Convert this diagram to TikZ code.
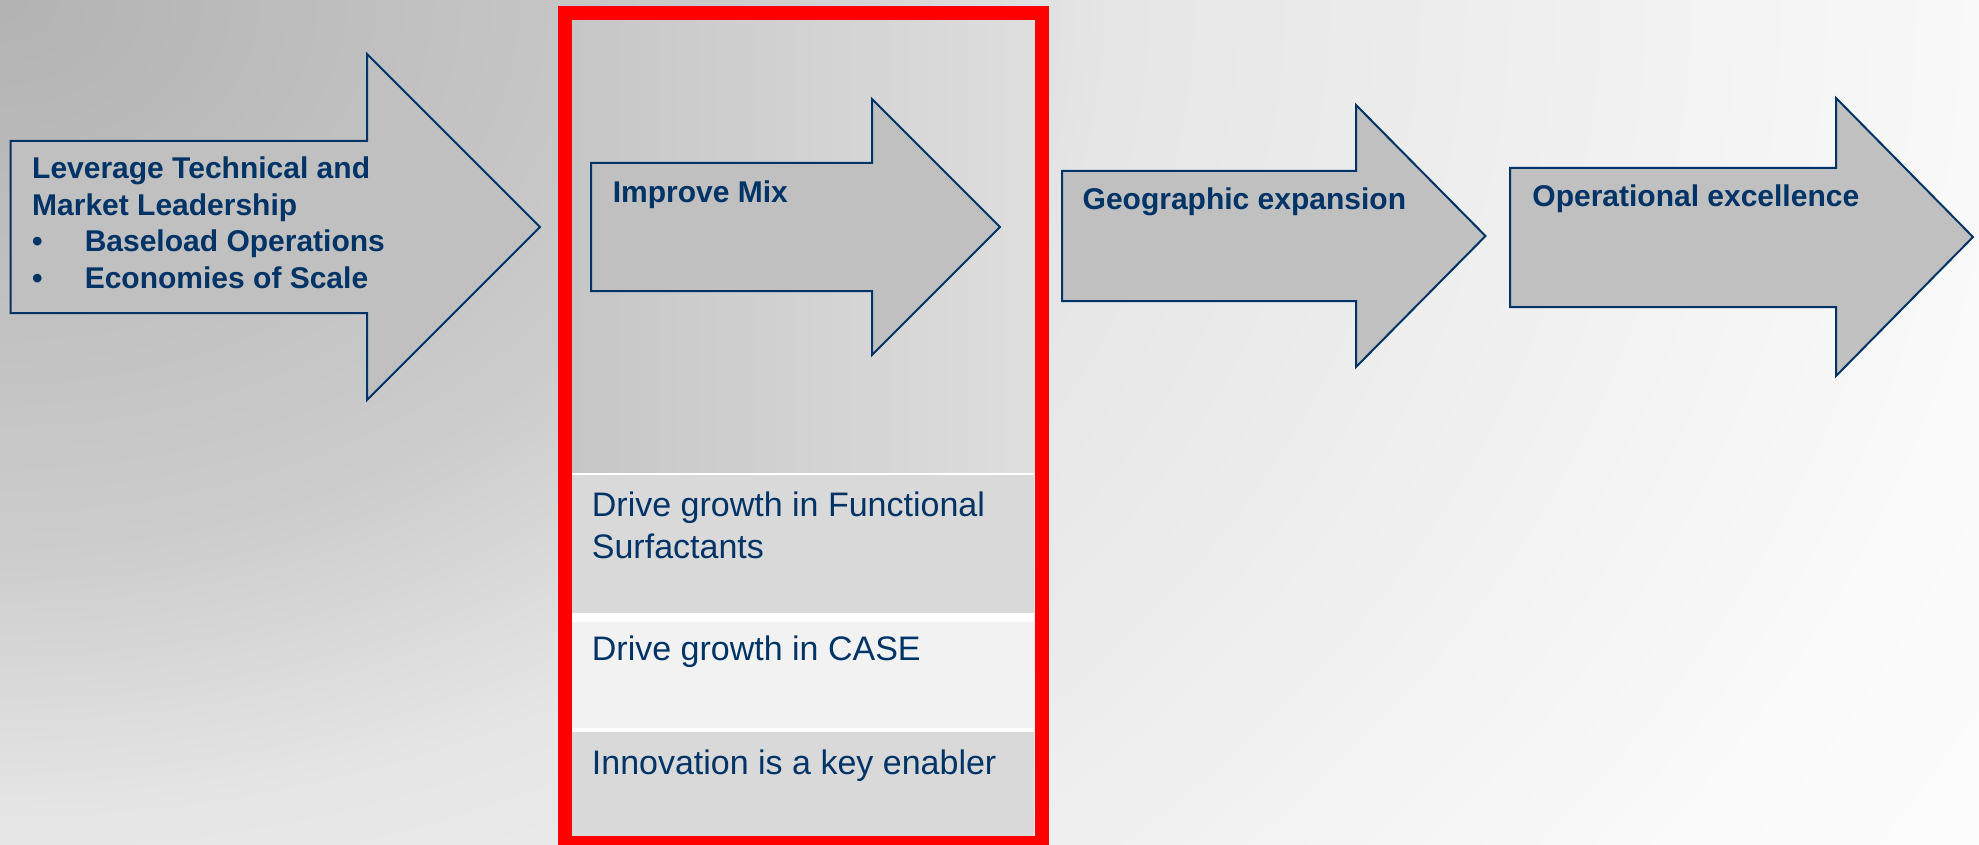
\documentclass[tikz,border=0pt]{standalone}
\usepackage{fontspec}
\setmainfont{Liberation Sans}

\definecolor{navy}{RGB}{0,51,102}
\definecolor{arrowgray}{RGB}{192,192,192}
\definecolor{rowgray}{RGB}{217,217,217}
\definecolor{rowlight}{RGB}{242,242,242}
\definecolor{boxleft}{RGB}{198,198,198}
\definecolor{boxright}{RGB}{222,222,222}
\definecolor{boxred}{RGB}{255,0,0}

% background glow from the upper left corner
\pgfdeclareradialshading{bgglow}{\pgfpoint{0bp}{0bp}}{%
  rgb(0bp)=(0.70,0.70,0.70); rgb(8bp)=(0.80,0.80,0.80);
  rgb(12bp)=(0.90,0.90,0.90); rgb(17bp)=(0.94,0.94,0.94);
  rgb(22bp)=(0.98,0.98,0.98); rgb(25bp)=(0.99,0.99,0.99);
  rgb(50bp)=(0.99,0.99,0.99)}

\tikzset{
  stage/.style={draw=navy, line width=2pt, fill=arrowgray, line join=miter},
  headtxt/.style={text=navy, inner sep=0pt, anchor=base west, align=left,
    font=\fontsize{30}{36.6}\selectfont\bfseries},
  rowtxt/.style={text=navy, inner sep=0pt, anchor=base west, align=left,
    font=\fontsize{34}{41.7}\selectfont},
}

% #1 left, #2 body top, #3 body bottom, #4 head x, #5 head top, #6 head bottom, #7 tip x
\newcommand{\stagearrow}[7]{%
  \draw[stage] (#1,#2) -- (#4,#2) -- (#4,#5) -- (#7,{(#5+#6)/2})
    -- (#4,#6) -- (#4,#3) -- (#1,#3) -- cycle;}

\begin{document}
\begin{tikzpicture}[x=1pt,y=-1pt]
\useasboundingbox (0,0) rectangle (1979,845);

\begin{scope}
    \clip (0,0) rectangle (1979,845);
    \fill[white] (0,0) rectangle (1979,845);
    \shade[shading=bgglow] (0,0) ellipse [x radius=2300, y radius=1700];
\end{scope}

% the highlighted column
\fill[white] (571.7,20) rectangle (1034.3,835.7);
\shade[left color=boxleft, right color=boxright] (571.7,20) rectangle (1034.3,472);
\fill[rowgray] (571.7,475) rectangle (1034.3,612.7);
\fill[rowlight] (571.7,622.3) rectangle (1034.3,728.3);
\fill[rowgray] (571.7,731.7) rectangle (1034.3,835.7);
\draw[boxred, line width=14pt] (564.5,12.8) rectangle (1041.7,842.7);

% arrows
\stagearrow{10.5}{141}{313}{367}{54}{400}{540}
\stagearrow{591}{163}{291}{872}{99}{355}{1000}
\stagearrow{1062}{171}{301}{1356}{105}{367}{1485.5}
\stagearrow{1510}{168}{307}{1836}{98}{376}{1973}

% base of a multi-line node is its last line
\node[headtxt] (leverage) at (32,288.5) {Leverage Technical and\\Market Leadership\\
    \makebox[52.6pt][l]{\textbullet}Baseload Operations\\
    \makebox[52.6pt][l]{\textbullet}Economies of Scale};
\node[headtxt] (mix) at (612.7,202.7) {Improve Mix};
\node[headtxt] (geo) at (1082.5,209.3) {Geographic expansion};
\node[headtxt] (ops) at (1532.2,206.7) {Operational excellence};

\node[rowtxt] (surf) at (591.7,558.4) {Drive growth in Functional\\Surfactants};
\node[rowtxt] (case) at (591.7,660.7) {Drive growth in CASE};
\node[rowtxt] (innov) at (591.7,774.3) {Innovation is a key enabler};

\end{tikzpicture}
\end{document}
